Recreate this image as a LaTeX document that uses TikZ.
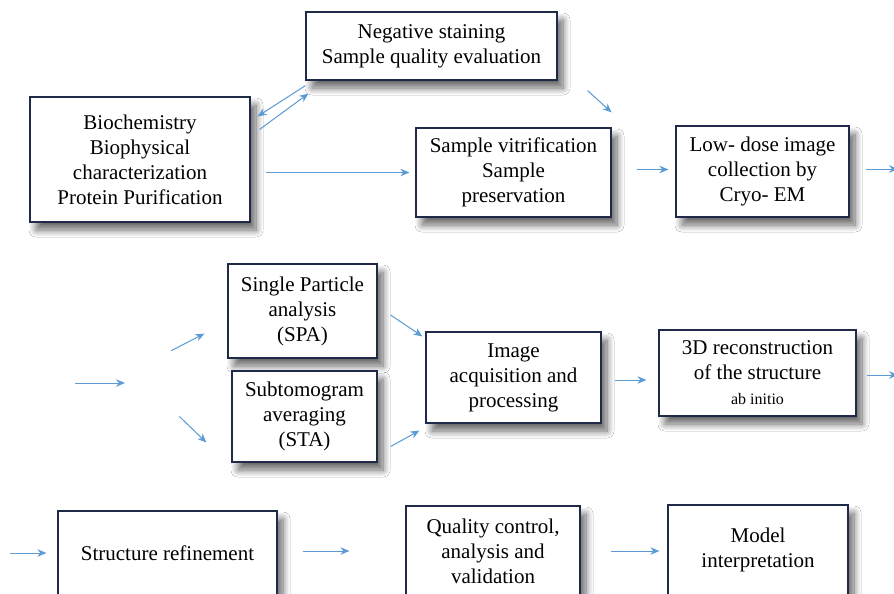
\documentclass[tikz,border=0pt]{standalone}
\usepackage{fontspec}
\setmainfont{Liberation Serif}
\usetikzlibrary{arrows.meta,shadows.blur}
\definecolor{boxline}{HTML}{1F2A48}
\definecolor{arrowblue}{HTML}{5B9BD5}
\begin{document}
\begin{tikzpicture}[x=1pt,y=-1pt,
        box/.style={draw=boxline, line width=1.2pt, fill=white, align=center,
            inner sep=2pt, font=\fontsize{21}{25}\selectfont,
            blur shadow={shadow xshift=6pt, shadow yshift=-8pt, shadow blur steps=10, shadow blur radius=7pt, shadow opacity=60}},
        arr/.style={draw=arrowblue, line width=1pt, -{Stealth[length=9pt,width=7.5pt]}}
    ]
    \useasboundingbox (0,0) rectangle (894,594);
    \fill[white] (0,0) rectangle (894,594);

    \begin{scope}[every node/.style={box}]
        \node[minimum width=220, minimum height=125] (bio) at (140,159.5) {Biochemistry\\Biophysical\\characterization\\Protein Purification};
        \node[minimum width=251, minimum height=68] (neg) at (431.5,46) {Negative staining\\Sample quality evaluation};
        \node[minimum width=195, minimum height=89] (vit) at (513.5,172.5) {Sample vitrification\\Sample\\preservation};
        \node[minimum width=173, minimum height=91] (low) at (762.5,171.5) {Low- dose image\\collection by\\Cryo- EM};

        \node[minimum width=149, minimum height=94] (spa) at (302.5,311) {Single Particle\\analysis\\(SPA)};
        \node[minimum width=145, minimum height=91] (sta) at (304.5,416.5) {Subtomogram\\averaging\\(STA)};
        \node[minimum width=175, minimum height=91] (img) at (513.5,377.5) {Image\\acquisition and\\processing};
        \node[minimum width=197, minimum height=86] (rec) at (757.5,373) {3D reconstruction\\of the structure\\{\fontsize{16}{14}\selectfont ab initio}};

        \node[minimum width=219, minimum height=84] (ref) at (167.5,553) {Structure refinement};
        \node[minimum width=174, minimum height=90] (qc) at (493,551) {Quality control,\\analysis and\\validation};
        \node[minimum width=180, minimum height=90] (mod) at (758,550) {Model\\interpretation};
    \end{scope}

    \coordinate (lowout) at (898,169);
    \coordinate (recout) at (898,375);
    \coordinate (in2a) at (75,383);
    \coordinate (in2b) at (125,383);
    \coordinate (refin) at (10,553);

    \draw[arr] ([xshift=9pt,yshift=-33pt]bio.north east) -- ([xshift=3pt,yshift=-13pt]neg.south west);
    \draw[arr] ([yshift=-5pt]neg.south west) -- ([xshift=7pt,yshift=-20pt]bio.north east);
    \draw[arr] ([xshift=30pt,yshift=-10pt]neg.south east) -- ([yshift=15pt]vit.north east);
    \draw[arr, shorten <=15pt, shorten >=6pt] (bio.east |- vit.west) -- (vit.west);
    \draw[arr, shorten <=25pt, shorten >=7pt] ([yshift=3pt]vit.east) -- ([yshift=3pt]vit.east -| low.west);
    \draw[arr, shorten <=16pt] ([yshift=2.5pt]low.east) -- (lowout);

    \draw[arr] (in2a) -- (in2b);
    \draw[arr] ([xshift=-56pt,yshift=8pt]spa.south west) -- ([xshift=-23pt,yshift=25pt]spa.south west);
    \draw[arr] ([xshift=-52pt]sta.west) -- ([xshift=-25pt,yshift=-26pt]sta.west);
    \draw[arr] ([xshift=13pt,yshift=-4pt]spa.east) -- ([xshift=-3pt,yshift=-5pt]img.north west);
    \draw[arr] ([xshift=13pt,yshift=-30pt]sta.east) -- ([xshift=-6pt,yshift=-7pt]img.south west);
    \draw[arr, shorten <=13pt, shorten >=12pt] ([yshift=-2.5pt]img.east) -- ([yshift=-2.5pt]img.east -| rec.west);
    \draw[arr, shorten <=10pt] ([yshift=-2pt]rec.east) -- (recout);

    \draw[arr, shorten >=11pt] (refin) -- (ref.west);
    \draw[arr, shorten <=25pt, shorten >=56pt] ([yshift=2pt]ref.east) -- ([yshift=2pt]ref.east -| qc.west);
    \draw[arr, shorten <=30pt, shorten >=8pt] (qc.east) -- (qc.east -| mod.west);
\end{tikzpicture}
\end{document}
